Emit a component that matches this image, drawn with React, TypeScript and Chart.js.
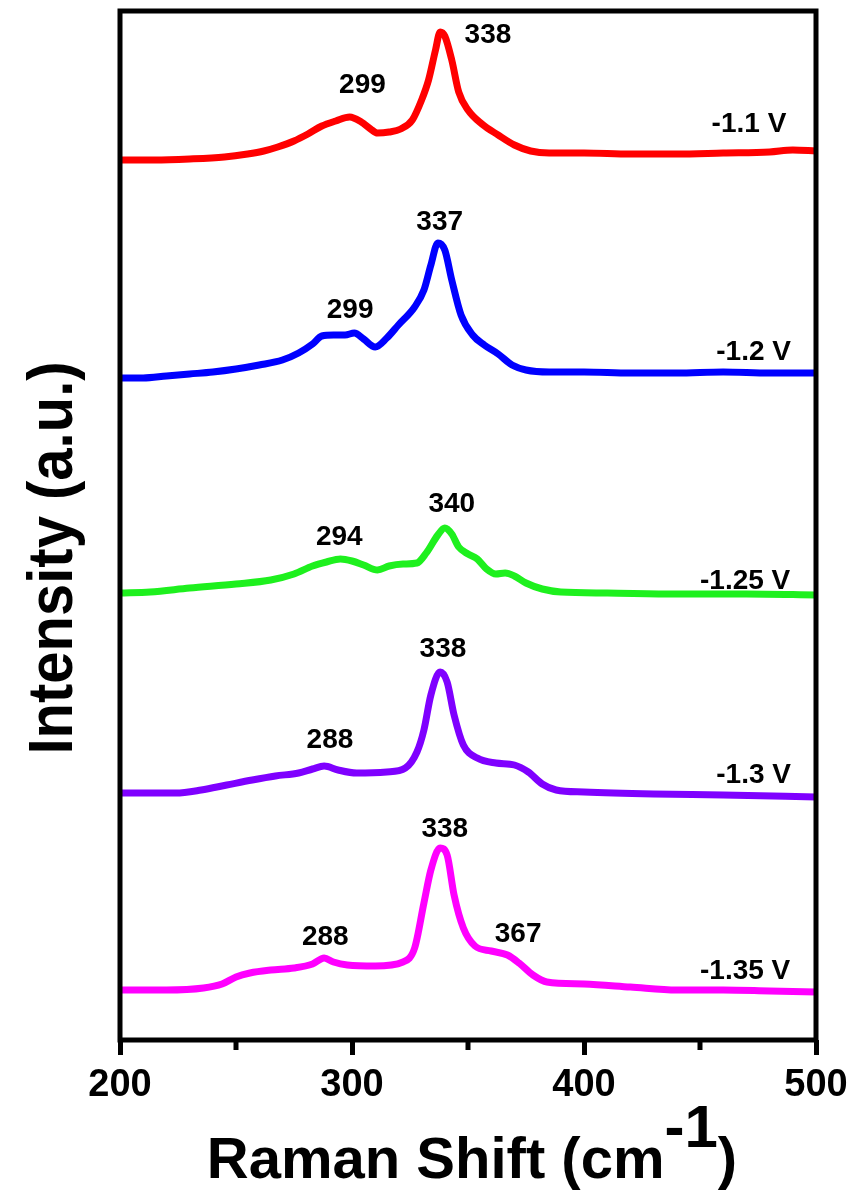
import { useEffect, useRef } from "react";
import { Chart, registerables } from "chart.js";

Chart.register(...registerables);

const FONT = '"Liberation Sans", Arial, Helvetica, sans-serif';

// X axis
const xMin = 200;
const xMax = 500;
const majorTicks = [200, 300, 400, 500];
const minorTicks = [250, 350, 450];

// Y axis (arbitrary units, spectra stacked with offsets)
const yMin = 0;
const yMax = 1029;

// -1.1 V (red)
const redX = [200, 215, 230, 245, 255, 262, 268, 275, 281, 287, 293, 299, 304, 308, 311, 316, 321, 326, 330, 333, 336, 338, 340, 343, 346, 350, 356, 363, 370, 377, 385, 400, 420, 440, 460, 480, 490, 500];
const redY = [880, 880, 881, 883, 886, 889, 893, 899, 906, 914, 919, 923, 918, 911, 907, 908, 911, 920, 940, 960, 990, 1008, 1004, 980, 948, 930, 916, 905, 895, 889, 887, 887, 886, 886, 887, 888, 890, 889];

// -1.2 V (blue)
const blueX = [200, 210, 220, 230, 240, 250, 260, 270, 277, 283, 287, 292, 297, 301, 305, 310, 315, 320, 327, 331, 334, 337, 340, 343, 347, 352, 357, 363, 369, 375, 385, 400, 420, 440, 460, 480, 500];
const blueY = [662, 662, 664, 666, 668, 671, 675, 680, 687, 696, 704, 705, 705, 707, 701, 693, 702, 715, 733, 750, 775, 797, 790, 760, 725, 705, 695, 686, 675, 670, 668, 668, 667, 667, 668, 667, 667];

// -1.25 V (green)
const greenX = [200, 213, 230, 250, 265, 275, 283, 289, 295, 300, 305, 311, 316, 322, 328, 332, 337, 340, 343, 346, 350, 354, 358, 362, 366, 370, 375, 382, 390, 410, 440, 470, 500];
const greenY = [447, 448, 452, 456, 460, 466, 474, 478, 481, 479, 475, 470, 474, 476, 477, 487, 505, 512, 506, 493, 486, 481, 471, 466, 467, 464, 457, 451, 448, 447, 446, 446, 445];

// -1.3 V (violet)
const violetX = [200, 224, 235, 246, 257, 267, 277, 283, 288, 294, 302, 315, 323, 328, 331, 334, 338, 341, 344, 348, 354, 362, 370, 376, 382, 388, 400, 430, 460, 500];
const violetY = [247, 247, 250, 255, 260, 264, 267, 271, 274, 270, 267, 268, 272, 288, 310, 345, 368, 358, 325, 295, 282, 277, 275, 268, 256, 250, 248, 246, 245, 243];

// -1.35 V (magenta)
const magentaX = [200, 220, 236, 244, 250, 256, 265, 275, 283, 288, 292, 298, 310, 322, 327, 331, 334, 338, 341, 344, 348, 353, 360, 367, 372, 378, 384, 400, 420, 440, 460, 480, 500];
const magentaY = [50, 50, 52, 56, 63, 67, 70, 72, 76, 82, 78, 75, 74, 78, 92, 137, 170, 192, 185, 145, 112, 94, 89, 85, 77, 65, 58, 56, 53, 50, 50, 49, 48];

const seriesNames = ["-1.1 V", "-1.2 V", "-1.25 V", "-1.3 V", "-1.35 V"];
const seriesColors = ["#ff0000", "#0000ff", "#1ef01e", "#7f00ff", "#ff00ff"];

// voltage label anchors (left x in cm-1, baseline in a.u.)
const voltLabelX = [455, 457, 450, 457, 450];
const voltLabelY = [908, 680, 451, 257, 61];

// peak annotations
const peakText = ["338", "299", "337", "299", "340", "294", "338", "288", "338", "288", "367"];
const peakX = [358.6, 304.5, 337.8, 299.2, 343, 294.5, 339.2, 290.5, 340, 288.5, 371.6];
const peakY = [997, 947, 810, 722, 528, 495, 383, 292, 203, 95, 98];

function pts(xs: number[], ys: number[]) {
  return xs.map((x, i) => ({ x, y: ys[i] }));
}

const decorPlugin = {
  id: "decor",
  afterDatasetsDraw(chart: any) {
    const { ctx, chartArea: a, scales } = chart;
    const xs = scales.x;
    const ys = scales.y;
    ctx.save();
    // frame
    ctx.strokeStyle = "#000";
    ctx.lineWidth = 5;
    ctx.strokeRect(a.left, a.top, a.right - a.left, a.bottom - a.top);
    // minor ticks
    minorTicks.forEach((v) => {
      const px = xs.getPixelForValue(v);
      ctx.beginPath();
      ctx.moveTo(px, a.bottom);
      ctx.lineTo(px, a.bottom + 10);
      ctx.stroke();
    });
    ctx.fillStyle = "#000";
    // peak labels
    ctx.font = `bold 28px ${FONT}`;
    ctx.textAlign = "center";
    ctx.textBaseline = "alphabetic";
    peakText.forEach((t, i) => {
      ctx.fillText(t, xs.getPixelForValue(peakX[i]), ys.getPixelForValue(peakY[i]));
    });
    // voltage labels
    ctx.textAlign = "left";
    seriesNames.forEach((t, i) => {
      ctx.fillText(t, xs.getPixelForValue(voltLabelX[i]), ys.getPixelForValue(voltLabelY[i]));
    });
    // y title
    ctx.save();
    ctx.translate(72, 558);
    ctx.rotate(-Math.PI / 2);
    ctx.scale(1, 1.1);
    ctx.font = `bold 58px ${FONT}`;
    ctx.textAlign = "center";
    ctx.fillText("Intensity (a.u.)", 0, 0);
    ctx.restore();
    // x title
    const main = "Raman Shift (cm";
    const sup = "-1";
    const close = ")";
    const mainFont = `bold 58px ${FONT}`;
    const supFont = `bold 60px ${FONT}`;
    ctx.font = mainFont;
    const wMain = ctx.measureText(main).width;
    const wClose = ctx.measureText(close).width;
    ctx.font = supFont;
    const wSup = ctx.measureText(sup).width;
    const total = wMain + wSup + wClose;
    let x0 = 472 - total / 2;
    const base = 1178;
    ctx.textAlign = "left";
    ctx.font = mainFont;
    ctx.fillText(main, x0, base);
    x0 += wMain;
    ctx.font = supFont;
    ctx.fillText(sup, x0, base - 31);
    x0 += wSup;
    ctx.font = mainFont;
    ctx.fillText(close, x0, base);
    ctx.restore();
  },
};

export default function App() {
  const ref = useRef<HTMLCanvasElement | null>(null);
  useEffect(() => {
    if (!ref.current) return;
    const xsArr = [redX, blueX, greenX, violetX, magentaX];
    const ysArr = [redY, blueY, greenY, violetY, magentaY];
    const chart = new Chart(ref.current, {
      type: "line",
      data: {
        datasets: seriesNames.map((n, i) => ({
          label: n,
          data: pts(xsArr[i], ysArr[i]),
          borderColor: seriesColors[i],
          backgroundColor: seriesColors[i],
          borderWidth: 7,
          pointRadius: 0,
          cubicInterpolationMode: "monotone" as const,
          fill: false,
        })),
      },
      options: {
        animation: false,
        responsive: false,
        layout: { padding: { left: 120, top: 11, right: 40, bottom: 0 } },
        plugins: { legend: { display: false }, tooltip: { enabled: false } },
        scales: {
          x: {
            type: "linear",
            min: xMin,
            max: xMax,
            afterFit: (scale: any) => {
              scale.height = 157;
            },
            afterBuildTicks: (scale: any) => {
              scale.ticks = majorTicks.map((v) => ({ value: v }));
            },
            border: { display: false },
            grid: {
              display: true,
              drawOnChartArea: false,
              drawTicks: true,
              tickLength: 15,
              tickWidth: 5,
              tickColor: "#000",
            },
            ticks: {
              color: "#000",
              padding: 8,
              font: { family: FONT, size: 38, weight: "bold" },
              maxRotation: 0,
            },
          },
          y: {
            type: "linear",
            min: yMin,
            max: yMax,
            display: false,
          },
        },
      },
      plugins: [decorPlugin],
    });
    return () => chart.destroy();
  }, []);
  return (
    <div style={{ position: "absolute", left: 0, top: 0, width: 856, height: 1197, background: "#fff" }}>
      <canvas ref={ref} width={856} height={1197} style={{ display: "block" }} />
    </div>
  );
}
